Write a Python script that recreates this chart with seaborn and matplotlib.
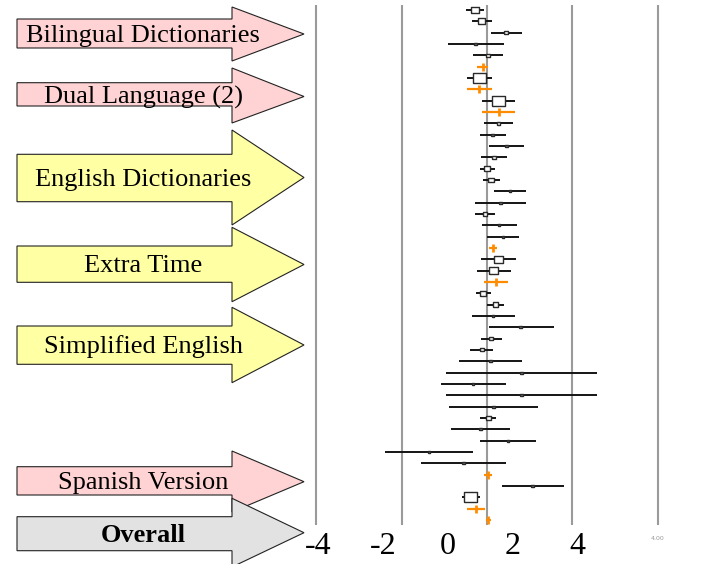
import numpy as np
import pandas as pd
import matplotlib
matplotlib.use("Agg")
import matplotlib.pyplot as plt
import seaborn as sns
from matplotlib.patches import Polygon

# ---------------- data ----------------
# effect estimates, lower / upper limits (one per row, top to bottom)
est = [0.824, 1.028, 1.799, 0.843, 1.235, 1.071, 0.966, 0.957, 1.552, 1.565,
       1.552, 1.380, 1.812, 1.420, 1.213, 1.336, 1.914, 1.627, 1.142, 1.574,
       1.698, 1.389, 1.552, 1.398, 1.481, 1.080, 1.460, 1.389, 2.244, 1.336,
       1.040, 1.306, 2.275, 0.772, 2.262, 1.410, 1.244, 0.997, 1.852, -0.586,
       0.485, 1.225, 2.614, 0.701, 0.855, 1.244]
lo = [0.556, 0.741, 1.327, 0.000, 0.772, 0.895, 0.586, 0.586, 1.049, 1.049,
      1.111, 0.988, 1.265, 1.019, 0.988, 1.080, 1.420, 0.833, 0.833, 1.049,
      1.204, 1.265, 1.019, 0.895, 1.111, 0.864, 1.204, 0.731, 1.265, 1.019,
      0.679, 0.340, -0.062, -0.216, -0.062, 0.031, 0.988, 0.093, 0.988, -1.944,
      -0.833, 1.111, 1.667, 0.432, 0.586, 1.173]
hi = [1.102, 1.349, 2.284, 1.728, 1.707, 1.244, 1.349, 1.349, 2.068, 2.068,
      2.006, 1.790, 2.346, 1.821, 1.451, 1.605, 2.407, 2.407, 1.451, 2.130,
      2.191, 1.512, 2.099, 1.944, 1.852, 1.327, 1.728, 2.068, 3.272, 1.667,
      1.389, 2.284, 4.599, 1.790, 4.599, 2.778, 1.481, 1.914, 2.716, 0.772,
      1.790, 1.358, 3.580, 0.988, 1.142, 1.327]
# 1 = pooled (summary) estimate, 0 = single study
pooled = [0, 0, 0, 0, 0, 1, 0, 1, 0, 1,
          0, 0, 0, 0, 0, 0, 0, 0, 0, 0,
          0, 1, 0, 0, 1, 0, 0, 0, 0, 0,
          0, 0, 0, 0, 0, 0, 0, 0, 0, 0,
          0, 1, 0, 0, 1, 1]
# relative study weight (box size)
weight = [8, 7.5, 4, 2.5, 4.5, 0, 13, 0, 13, 0,
          3.5, 2.5, 2.5, 3.5, 6, 6, 2.5, 2.5, 4.5, 2.5,
          2.5, 0, 9.5, 9.5, 0, 6.5, 5.5, 2.5, 2.5, 4,
          4, 2.5, 2.5, 2.5, 2.5, 2.5, 5.5, 2.5, 2.5, 2.5,
          2.5, 0, 2.5, 13, 0, 0]

groups = ["Bilingual Dictionaries", "Dual Language (2)", "English Dictionaries",
          "Extra Time", "Simplified English", "Spanish Version", "Overall"]
group_kind = ["pink", "pink", "yellow", "yellow", "yellow", "pink", "gray"]

tick_vals = [-4, -2, 0, 2, 4]
ref_lines = [-4.074, -1.429, 1.204, 3.836, 6.494]
ref_label = "4.00"

# ---------------- style ----------------
sns.set_theme(style="white")
plt.rcParams["font.family"] = ["Liberation Serif", "DejaVu Serif"]
plt.rcParams["axes.unicode_minus"] = False

W, H = 713, 564
fig = plt.figure(figsize=(W / 100, H / 100), dpi=100)

# background axes in pixel coordinates for the arrows
ax_bg = fig.add_axes([0, 0, 1, 1])
ax_bg.set_xlim(0, W)
ax_bg.set_ylim(H, 0)
ax_bg.axis("off")

fills = {"pink": "#FFD3D3", "yellow": "#FFFFA3", "gray": "#E2E2E2"}
# (body_top, body_bottom, head_top, head_bottom, tip_y, text_baseline)
arrow_geo = [
    (19, 48, 7, 61, 34, 41.8),
    (82.7, 106, 68, 123, 96.5, 103.8),
    (154.3, 201.7, 130, 225, 177.5, 186.3),
    (246, 282.3, 227.3, 301.7, 264.5, 271.8),
    (326, 364.3, 307.3, 382.7, 345, 352.8),
    (466.7, 495, 451, 512, 481.7, 488.8),
    (516.7, 550.7, 498.3, 567, 532.7, 541.8),
]
x0, xh, xt = 17, 232, 304
for name, kind, (bt, bb, ht, hb, ty, tb) in zip(groups, group_kind, arrow_geo):
    pts = [(x0, bt), (xh, bt), (xh, ht), (xt, ty), (xh, hb), (xh, bb), (x0, bb)]
    ax_bg.add_patch(Polygon(pts, closed=True, facecolor=fills[kind],
                            edgecolor="#222222", linewidth=0.8))
    ax_bg.text(143, tb, name, ha="center", va="baseline", fontsize=19,
               fontweight="bold" if name == "Overall" else "normal",
               color="black")
ax_bg.text(658, 538, ref_label, ha="center", va="center", fontsize=4.5,
           color="#999999", family="DejaVu Sans")

# ---------------- forest axes ----------------
px0, ppu = 448.0, 32.4      # pixel of 0, pixels per unit
row0, rstep = 10.0, 11.33   # first row pixel, row spacing
ax_bottom_px = 525
ax = fig.add_axes([0, (H - ax_bottom_px) / H, 1, ax_bottom_px / H])
ax.patch.set_alpha(0)
ax.set_xlim(-px0 / ppu, (W - px0) / ppu)
ax.set_ylim((ax_bottom_px - row0) / rstep, -row0 / rstep)
for s in ax.spines.values():
    s.set_visible(False)
ax.grid(False)

df = pd.DataFrame({"row": np.arange(len(est)), "est": est, "lo": lo, "hi": hi,
                   "pooled": pooled, "weight": weight})
study = df[df.pooled == 0].copy()
pool = df[df.pooled == 1]

ax.vlines(ref_lines, ymin=(5 - row0) / rstep, ymax=(ax_bottom_px - row0) / rstep,
          color="#9A9A9A", linewidth=1.5, zorder=1)

ax.hlines(study.row, study.lo, study.hi, color="#141414", linewidth=1.4, zorder=2)
ax.hlines(pool.row, pool.lo, pool.hi, color="#FF8C00", linewidth=1.6, zorder=2)
ax.plot(pool.est, pool.row, ls="none", marker="|", ms=5.5, mew=2.0,
        color="#FF8C00", zorder=3)

study["area"] = (study.weight * 0.72) ** 2
box = [(-1, -0.78), (1, -0.78), (1, 0.78), (-1, 0.78), (-1, -0.78)]
sizes = {a: a for a in study["area"].unique()}
n_before = len(ax.collections)
sns.scatterplot(data=study, x="est", y="row", size="area", sizes=sizes,
                marker=box, color="white", edgecolor="#2A2A2A", linewidth=1.0,
                legend=False, ax=ax)
face = ["#8A8A8A" if w <= 2.5 else "white" for w in study.weight]
for coll in ax.collections[n_before:]:
    coll.set_facecolor(face)
    coll.set_edgecolor("#2A2A2A")
    coll.set_linewidth(1.0)
    coll.set_zorder(5)

ax.set_xticks(tick_vals)
ax.set_xticklabels([str(v) for v in tick_vals], fontsize=23, color="black")
ax.set_yticks([])
ax.tick_params(axis="x", length=0, pad=5)
ax.set_xlabel("")
ax.set_ylabel("")

fig.savefig("out.png", dpi=100)
